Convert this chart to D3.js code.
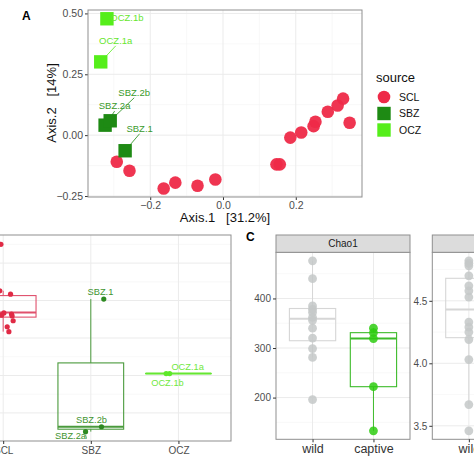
<!DOCTYPE html>
<html><head><meta charset="utf-8">
<script src="https://cdn.jsdelivr.net/npm/d3@7"></script>
<style>body{margin:0;background:#fff}svg{display:block;font-family:"Liberation Sans",Arial,sans-serif}</style>
</head><body><svg id="c" width="474" height="474"></svg>
<script>
// ---------------- DATA ----------------
// Panel A: PCoA ordination
const sourceLevels = ["SCL", "SBZ", "OCZ"];
const sclAxis1 = [-0.292,-0.257,-0.163,-0.131,-0.070,-0.021,0.147,0.156,0.185,0.215,0.249,0.254,0.288,0.315,0.330,0.348];
const sclAxis2 = [-0.109,-0.146,-0.219,-0.195,-0.208,-0.182,-0.120,-0.120,-0.010,0.011,0.037,0.055,0.096,0.122,0.150,0.051];
const zooIds = ["SBZ.1","SBZ.2a","SBZ.2b","OCZ.1a","OCZ.1b"];
const zooSource = ["SBZ","SBZ","SBZ","OCZ","OCZ"];
const zooAxis1 = [-0.269,-0.324,-0.310,-0.336,-0.319];
const zooAxis2 = [-0.064,0.041,0.059,0.301,0.478];
const axis1Ticks = [-0.2, 0.0, 0.2];
const axis2Ticks = [-0.25, 0.00, 0.25, 0.50];

// Panel B: per-source values
const sclValueB = [0.550,0.515,0.426,0.417,0.412,0.401,0.375,0.369,0.367,0.364,0.361,0.359,0.346,0.340,0.330,0.317];
const sclJitterB = [-0.026,-0.30,-0.038,0.084,-0.25,-0.20,-0.28,-0.15,0.008,0.095,-0.018,0.102,0.114,-0.22,0.046,0.065];
const sbzIdsB = ["SBZ.1","SBZ.2b","SBZ.2a"];
const sbzValueB = [0.404,0.063,0.050];
const sbzJitterB = [0.148,0.122,-0.06];
const oczIdsB = ["OCZ.1a","OCZ.1b"];
const oczValueB = [0.205,0.205];
const oczJitterB = [-0.10,-0.14];

// Panel C: alpha diversity
const habitats = ["wild", "captive"];
const chao1Wild = [476,440,385,378,372,362,356,340,320,299,281,196];
const chao1Captive = [340,331,319,222,133];
const chao1Ticks = [200, 300, 400];
const shannonWild = [4.82,4.80,4.78,4.70,4.62,4.58,4.53,4.33,4.29,4.25,4.19,4.03,3.67,3.46];
const shannonTicks = [3.5, 4.0, 4.5];

// ---------------- STYLE ----------------
const colA = {SCL:"#EE2A48", SBZ:"#1E8A14", OCZ:"#55EE1A"};
const colB = {SCL:"#E02A45", SBZ:"#2E8A22", OCZ:"#5EE82A"};
const boxColB = {SCL:"#E0506C", SBZ:"#4A9A3C", OCZ:"#66E632"};
const gridMajor = "#EBEBEB", gridMinor = "#F4F4F4", border = "#8F8F8F", tickCol = "#4D4D4D";

const svg = d3.select("#c");
svg.append("rect").attr("width",474).attr("height",474).attr("fill","#fff");

function boxStats(v){
  const s = v.slice().sort(d3.ascending);
  const q1 = d3.quantile(s,0.25), med = d3.quantile(s,0.5), q3 = d3.quantile(s,0.75);
  const iqr = q3-q1;
  const lo = d3.min(s.filter(d=>d>=q1-1.5*iqr)), hi = d3.max(s.filter(d=>d<=q3+1.5*iqr));
  return {q1,med,q3,lo,hi};
}
function drawBox(g, x, y, vals, halfW, color){
  const b = boxStats(vals);
  g.append("line").attr("x1",x(0)).attr("x2",x(0)).attr("y1",y(b.hi)).attr("y2",y(b.q3)).attr("stroke",color).attr("stroke-width",1);
  g.append("line").attr("x1",x(0)).attr("x2",x(0)).attr("y1",y(b.q1)).attr("y2",y(b.lo)).attr("stroke",color).attr("stroke-width",1);
  g.append("rect").attr("x",x(-halfW)).attr("width",x(halfW)-x(-halfW)).attr("y",y(b.q3)).attr("height",Math.max(0.01,y(b.q1)-y(b.q3)))
    .attr("fill","none").attr("stroke",color).attr("stroke-width",1.1);
  g.append("line").attr("x1",x(-halfW)).attr("x2",x(halfW)).attr("y1",y(b.med)).attr("y2",y(b.med)).attr("stroke",color).attr("stroke-width",2);
}

// ================= PANEL A =================
const xA = d3.scaleLinear().domain([-0.371,0.382]).range([88,362]);
const yA = d3.scaleLinear().domain([-0.254,0.514]).range([197,10]);
const gA = svg.append("g");
gA.append("rect").attr("x",88).attr("y",10).attr("width",274).attr("height",187).attr("fill","#fff");
// minor grid
[-0.3,-0.1,0.1,0.3].forEach(v=>gA.append("line").attr("x1",xA(v)).attr("x2",xA(v)).attr("y1",10).attr("y2",197).attr("stroke",gridMinor).attr("stroke-width",0.6));
[-0.125,0.125,0.375].forEach(v=>gA.append("line").attr("y1",yA(v)).attr("y2",yA(v)).attr("x1",88).attr("x2",362).attr("stroke",gridMinor).attr("stroke-width",0.6));
axis1Ticks.forEach(v=>gA.append("line").attr("x1",xA(v)).attr("x2",xA(v)).attr("y1",10).attr("y2",197).attr("stroke",gridMajor).attr("stroke-width",1));
axis2Ticks.forEach(v=>gA.append("line").attr("y1",yA(v)).attr("y2",yA(v)).attr("x1",88).attr("x2",362).attr("stroke",gridMajor).attr("stroke-width",1));
// axes
const axAx = gA.append("g").attr("transform","translate(0,197)").call(d3.axisBottom(xA).tickValues(axis1Ticks).tickFormat(d3.format(".1f")).tickSize(3).tickPadding(2));
const axAy = gA.append("g").attr("transform","translate(88,0)").call(d3.axisLeft(yA).tickValues(axis2Ticks).tickFormat(d3.format(".2f")).tickSize(3).tickPadding(2));
[axAx,axAy].forEach(a=>{a.select(".domain").remove();a.selectAll("line").attr("stroke","#333");a.selectAll("text").attr("fill",tickCol).attr("font-size",10.5).attr("font-family","Liberation Sans, Arial, sans-serif");});
// points SCL
gA.selectAll("circle.scl").data(sclAxis1.map((d,i)=>({x:d,y:sclAxis2[i]}))).enter().append("circle")
  .attr("cx",d=>xA(d.x)).attr("cy",d=>yA(d.y)).attr("r",6.3).attr("fill",colA.SCL).attr("opacity",0.95);
// labels for zoo samples
const labelNudgeA = {"OCZ.1b":[20,-1,false],"OCZ.1a":[15,-21,true],"SBZ.2b":[24,-28,true],"SBZ.2a":[9.5,-19,true],"SBZ.1":[14.5,-22,true]};
const zoo = zooIds.map((id,i)=>({id,src:zooSource[i],x:zooAxis1[i],y:zooAxis2[i]}));
zoo.forEach(d=>{
  const px=xA(d.x), py=yA(d.y), n=labelNudgeA[d.id];
  if(n[2]){
    const lx=px+n[0], ly=py+n[1]+5;
    const dx=px-lx, dy=py-ly, L=Math.hypot(dx,dy), s=(L-5)/L;
    gA.append("line").attr("x1",lx).attr("y1",ly).attr("x2",lx+dx*s).attr("y2",ly+dy*s).attr("stroke",colA[d.src]).attr("stroke-width",0.8);
  }
});
zoo.forEach(d=>{
  gA.append("rect").attr("x",xA(d.x)-6.7).attr("y",yA(d.y)-6.7).attr("width",13.4).attr("height",13.4).attr("fill",colA[d.src]);
});
zoo.forEach(d=>{
  const n=labelNudgeA[d.id];
  gA.append("text").attr("x",xA(d.x)+n[0]).attr("y",yA(d.y)+n[1]).attr("dy","0.35em").attr("text-anchor","middle")
    .attr("font-size",9.5).attr("fill",d.src==="OCZ"?"#66E62E":"#3A9A2A").text(d.id);
});
gA.append("rect").attr("x",88).attr("y",10).attr("width",274).attr("height",187).attr("fill","none").attr("stroke",border).attr("stroke-width",1);
gA.append("text").attr("x",225).attr("y",222).attr("text-anchor","middle").attr("font-size",13).attr("fill","#111").attr("xml:space","preserve").text("Axis.1   [31.2%]");
gA.append("text").attr("transform","translate(56,103) rotate(-90)").attr("text-anchor","middle").attr("font-size",13).attr("fill","#111").attr("xml:space","preserve").text("Axis.2   [14%]");
gA.append("text").attr("x",22).attr("y",20).attr("font-size",12).attr("font-weight","bold").attr("fill","#000").text("A");
// legend
const lg = svg.append("g");
lg.append("text").attr("x",376).attr("y",81.5).attr("font-size",13).attr("fill","#111").text("source");
sourceLevels.forEach((s,i)=>{
  const cy=[97,113.5,130][i];
  if(s==="SCL") lg.append("circle").attr("cx",384).attr("cy",cy).attr("r",6.3).attr("fill",colA[s]);
  else lg.append("rect").attr("x",377.3).attr("y",cy-6.7).attr("width",13.4).attr("height",13.4).attr("fill",colA[s]);
  lg.append("text").attr("x",399).attr("y",cy).attr("dy","0.35em").attr("font-size",10.5).attr("fill","#111").text(s);
});

// ================= PANEL B =================
const xB = d3.scaleLinear().domain([0.4,3.6]).range([-49.4,231]);
const yB = d3.scaleLinear().domain([0.025,0.575]).range([441,235]);
const gB = svg.append("g");
[0.15,0.25,0.35,0.45,0.55].forEach(v=>gB.append("line").attr("x1",-60).attr("x2",231).attr("y1",yB(v)).attr("y2",yB(v)).attr("stroke",gridMinor).attr("stroke-width",0.6));
[0.1,0.2,0.3,0.4,0.5].forEach(v=>gB.append("line").attr("x1",-60).attr("x2",231).attr("y1",yB(v)).attr("y2",yB(v)).attr("stroke",gridMajor).attr("stroke-width",1));
[1,2,3].forEach(v=>gB.append("line").attr("x1",xB(v)).attr("x2",xB(v)).attr("y1",235).attr("y2",441).attr("stroke",gridMajor).attr("stroke-width",1));
const groupsB = [
  {s:"SCL",i:1,vals:sclValueB,jit:sclJitterB,ids:null},
  {s:"SBZ",i:2,vals:sbzValueB,jit:sbzJitterB,ids:sbzIdsB},
  {s:"OCZ",i:3,vals:oczValueB,jit:oczJitterB,ids:oczIdsB}];
groupsB.forEach(g=>{
  const xs = d3.scaleLinear().domain([0,1]).range([xB(g.i),xB(g.i+1)]);
  drawBox(gB, v=>xs(v), yB, g.vals, 0.375, boxColB[g.s]);
});
groupsB.forEach(g=>{
  g.vals.forEach((v,k)=>gB.append("circle").attr("cx",xB(g.i+g.jit[k])).attr("cy",yB(v)).attr("r",2.6).attr("fill",colB[g.s]));
});
const labelNudgeB = {"SBZ.1":[-3.3,-7.3],"SBZ.2b":[-10,-7.3],"SBZ.2a":[-15,3.7],"OCZ.1a":[18,-6.7],"OCZ.1b":[1.3,8.7]};
groupsB.filter(g=>g.ids).forEach(g=>{
  g.vals.forEach((v,k)=>{
    const id=g.ids[k], n=labelNudgeB[id];
    gB.append("text").attr("x",xB(g.i+g.jit[k])+n[0]).attr("y",yB(v)+n[1]).attr("dy","0.35em").attr("text-anchor","middle")
      .attr("font-size",9.3).attr("fill",g.s==="OCZ"?"#70E840":"#3F9430").text(id);
  });
});
gB.append("line").attr("x1",xB(2-0.06)+1).attr("x2",xB(2-0.06)).attr("y1",yB(0.05)+7).attr("y2",yB(0.05)+3).attr("stroke","#3F9430").attr("stroke-width",0.8);
gB.append("rect").attr("x",-60).attr("y",235).attr("width",291).attr("height",206).attr("fill","none").attr("stroke",border).attr("stroke-width",1);
const axB = gB.append("g").attr("transform","translate(0,441)").call(d3.axisBottom(xB).tickValues([1,2,3]).tickFormat(d=>sourceLevels[d-1]).tickSize(3).tickPadding(3));
axB.select(".domain").remove();axB.selectAll("line").attr("stroke","#333");
axB.selectAll("text").attr("fill",tickCol).attr("font-size",10).attr("font-family","Liberation Sans, Arial, sans-serif");

// ================= PANEL C =================
const gC = svg.append("g");
gC.append("text").attr("x",246).attr("y",241).attr("font-size",12).attr("font-weight","bold").attr("fill","#000").text("C");
function facet(x0,x1,yDom,ticks,minor,title,series){
  const x = d3.scaleLinear().domain([0.4,2.6]).range([x0,x1]);
  const y = d3.scaleLinear().domain(yDom).range([439.3,252.3]);
  const g = gC.append("g");
  minor.forEach(v=>g.append("line").attr("x1",x0).attr("x2",x1).attr("y1",y(v)).attr("y2",y(v)).attr("stroke",gridMinor).attr("stroke-width",0.6));
  ticks.forEach(v=>g.append("line").attr("x1",x0).attr("x2",x1).attr("y1",y(v)).attr("y2",y(v)).attr("stroke",gridMajor).attr("stroke-width",1));
  [1,2].forEach(v=>g.append("line").attr("x1",x(v)).attr("x2",x(v)).attr("y1",252.3).attr("y2",439.3).attr("stroke",gridMajor).attr("stroke-width",1));
  series.forEach(s=>{
    const xs = d3.scaleLinear().domain([0,1]).range([x(s.i),x(s.i+1)]);
    drawBox(g, v=>xs(v), y, s.vals, 0.38, s.box);
  });
  series.forEach(s=>{
    g.selectAll(null).data(s.vals).enter().append("circle").attr("cx",x(s.i)).attr("cy",d=>y(d)).attr("r",4.4).attr("fill",s.pt).attr("opacity",s.op);
  });
  g.append("rect").attr("x",x0).attr("y",252.3).attr("width",x1-x0).attr("height",187).attr("fill","none").attr("stroke",border).attr("stroke-width",1);
  g.append("rect").attr("x",x0).attr("y",235).attr("width",x1-x0).attr("height",17.3).attr("fill","#DCDCDC").attr("stroke",border).attr("stroke-width",1);
  g.append("text").attr("x",(x0+x1)/2).attr("y",243.8).attr("dy","0.35em").attr("text-anchor","middle").attr("font-size",10).attr("fill","#1a1a1a").text(title);
  const ay = g.append("g").attr("transform",`translate(${x0},0)`).call(d3.axisLeft(y).tickValues(ticks).tickFormat(d3.format(yDom[1]>10?"d":".1f")).tickSize(3).tickPadding(2));
  const ax = g.append("g").attr("transform","translate(0,439.3)").call(d3.axisBottom(x).tickValues([1,2]).tickFormat(d=>habitats[d-1]).tickSize(3).tickPadding(2));
  [ay,ax].forEach(a=>{a.select(".domain").remove();a.selectAll("line").attr("stroke","#333");a.selectAll("text").attr("fill",tickCol).attr("font-family","Liberation Sans, Arial, sans-serif");});
  ay.selectAll("text").attr("font-size",10);
  ax.selectAll("text").attr("font-size",12.5).attr("fill","#333");
}
facet(276,410,[115.85,493.15],chao1Ticks,[150,250,350,450],"Chao1",[
  {i:1,vals:chao1Wild,box:"#D6D6D6",pt:"#C4C8C8",op:0.85},
  {i:2,vals:chao1Captive,box:"#3DBB2A",pt:"#2ECC10",op:0.85}]);
facet(432.3,566.3,[3.392,4.888],shannonTicks,[3.75,4.25,4.75],"Shannon",[
  {i:1,vals:shannonWild,box:"#D6D6D6",pt:"#C4C8C8",op:0.85}]);
</script></body></html>
